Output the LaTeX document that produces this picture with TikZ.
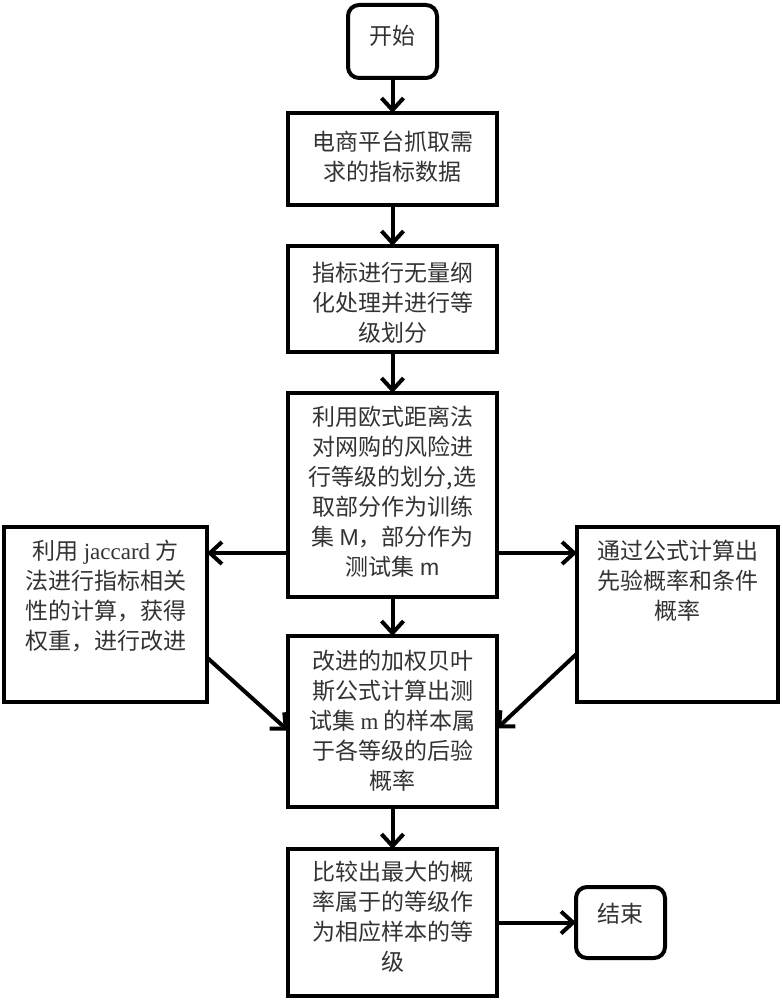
\documentclass[tikz,border=0pt]{standalone}
\usepackage{fontspec}
\newfontfamily\cjk{Noto Sans CJK SC}
\newfontfamily\latserif{Liberation Serif}
\newfontfamily\latsans{Liberation Sans}
\usetikzlibrary{arrows.meta}
\tikzset{
  boxstyle/.style={draw=black, line width=4pt, fill=white, inner sep=0pt, outer sep=0pt},
  termstyle/.style={boxstyle, rounded corners=11pt},
  txt/.style={font=\cjk\fontsize{23}{30}\selectfont, align=center, inner sep=0pt, text=black!80},
  arr/.style={line width=4pt, -{Straight Barb[length=12pt,width=22pt]}},
}
\begin{document}
\begin{tikzpicture}[x=1pt,y=-1pt]
\useasboundingbox[fill=white] (0,0) rectangle (783,1000);
% terminals
\node[termstyle, minimum width=89pt, minimum height=73pt] (start) at (392.5,41.5) {};
\node[txt] (starttxt) at (392.5,36) {开始};
\node[termstyle, minimum width=89pt, minimum height=71pt] (end) at (620.5,922.5) {};
\node[txt] (endtxt) at (620.5,914) {结束};
% main column
\node[boxstyle, minimum width=209pt, minimum height=92pt] (b1) at (392.5,159) {};
\node[txt] (t1) at (392.5,157) {电商平台抓取需\\求的指标数据};
\node[boxstyle, minimum width=209pt, minimum height=106pt] (b2) at (392.5,299) {};
\node[txt] (t2) at (392.5,303) {指标进行无量纲\\化处理并进行等\\级划分};
\node[boxstyle, minimum width=209pt, minimum height=204pt] (b3) at (392.5,495) {};
\node[txt] (t3) at (392.5,492) {利用欧式距离法\\对网购的风险进\\行等级的划分,选\\取部分作为训练\\集 {\latsans M}，部分作为\\测试集 {\latsans m}};
\node[boxstyle, minimum width=209pt, minimum height=171pt] (b4) at (392.5,721.5) {};
\node[txt] (t4) at (392.5,721) {改进的加权贝叶\\斯公式计算出测\\试集 {\latserif m} 的样本属\\于各等级的后验\\概率};
\node[boxstyle, minimum width=209pt, minimum height=147pt] (b5) at (392.5,922.5) {};
\node[txt] (t5) at (392.5,917) {比较出最大的概\\率属于的等级作\\为相应样本的等\\级};
% side boxes
\node[boxstyle, minimum width=203pt, minimum height=175pt] (L) at (105.5,614.5) {};
\node[txt, anchor=north] (tL) at (105.5,540) {利用 {\latserif jaccard} 方\\法进行指标相关\\性的计算，获得\\权重，进行改进};
\node[boxstyle, minimum width=201pt, minimum height=175pt] (R) at (677.5,614.5) {};
\node[txt, anchor=north] (tR) at (677.5,540) {通过公式计算出\\先验概率和条件\\概率};
% connectors
\draw[arr] (start) -- (b1);
\draw[arr] (b1) -- (b2);
\draw[arr] (b2) -- (b3);
\draw[arr] (b3) -- (b4);
\draw[arr] (b4) -- (b5);
\draw[arr] (b5) -- (end);
\draw[arr] ([yshift=-58pt]b3.west) coordinate (pl) -- (pl -| L.east);
\draw[arr] ([yshift=-58pt]b3.east) coordinate (pr) -- (pr -| R.west);
\draw[arr] ([yshift=-43pt]L.east) -- ([yshift=-9pt]b4.west);
\draw[arr] ([yshift=-39pt]R.west) -- ([yshift=-7pt]b4.east);
\end{tikzpicture}
\end{document}
